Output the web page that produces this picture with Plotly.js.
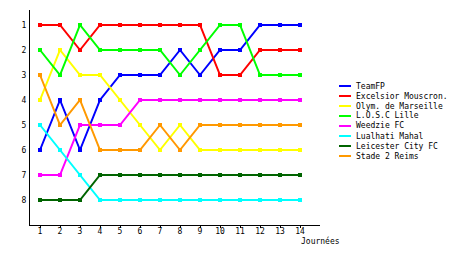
<!DOCTYPE html>
<html>
<head>
<meta charset="utf-8">
<script src="https://cdn.plot.ly/plotly-3.0.1.min.js"></script>
<style>html,body{margin:0;padding:0;background:#fff;}#chart{width:460px;height:255px;}</style>
</head>
<body>
<div id="chart"></div>
<script>
var rounds = [1,2,3,4,5,6,7,8,9,10,11,12,13,14];
var teams = ["TeamFP","Excelsior Mouscron.","Olym. de Marseille","L.O.S.C Lille","Weedzie FC","Lualhati Mahal","Leicester City FC","Stade 2 Reims"];
var teamFP     = [6,4,6,4,3,3,3,2,3,2,2,1,1,1];
var excelsior  = [1,1,2,1,1,1,1,1,1,3,3,2,2,2];
var marseille  = [4,2,3,3,4,5,6,5,6,6,6,6,6,6];
var lille      = [2,3,1,2,2,2,2,3,2,1,1,3,3,3];
var weedzie    = [7,7,5,5,5,4,4,4,4,4,4,4,4,4];
var lualhati   = [5,6,7,8,8,8,8,8,8,8,8,8,8,8];
var leicester  = [8,8,8,7,7,7,7,7,7,7,7,7,7,7];
var reims      = [3,5,4,6,6,6,5,6,5,5,5,5,5,5];
var yTicks = [1,2,3,4,5,6,7,8];
var xLabel = "Journées";

var series = [teamFP, excelsior, marseille, lille, weedzie, lualhati, leicester, reims];
var colors = ["#0000ff","#ff0000","#ffff00","#00ff00","#ff00ff","#00ffff","#006400","#ff9900"];
var font = {family: "DejaVu Sans Mono", size: 8, color: "#000"};

var traces = series.map(function(s, i){
  return {x: rounds, y: s, name: teams[i], type: "scatter", mode: "lines+markers",
    line: {color: colors[i], width: 2}, marker: {color: colors[i], size: 4, symbol: "square"},
    showlegend: false, hoverinfo: "none"};
});

// Legend (drawn manually for tight 10px rows)
var L = 30, R = 320, T = 10, B = 225;
function px(x){ return (x - L) / (R - L); }
function py(y){ return (B - y) / (B - T); }
var shapes = [], annotations = [];
teams.forEach(function(t, i){
  var yy = 86 + i * 10;
  shapes.push({type: "line", xref: "paper", yref: "paper", x0: px(339), x1: px(351), y0: py(yy), y1: py(yy),
    line: {color: colors[i], width: 2}});
  annotations.push({xref: "paper", yref: "paper", x: px(354), y: py(yy), xanchor: "left", yanchor: "middle",
    text: t, showarrow: false, font: font});
});
annotations.push({xref: "paper", yref: "paper", x: px(342), y: py(241), xanchor: "right", yanchor: "middle",
  text: xLabel, showarrow: false, font: font});

var layout = {
  width: 460, height: 255,
  margin: {l: L, r: 460 - R, t: T, b: 255 - B, pad: 0},
  paper_bgcolor: "#fff", plot_bgcolor: "#fff",
  font: font,
  showlegend: false,
  xaxis: {range: [0.5, 15], tickvals: rounds, ticktext: rounds.map(String), showgrid: false, zeroline: false,
    showline: true, linecolor: "#000", linewidth: 1, ticks: "outside", ticklen: 2, tickcolor: "#000",
    ticklabelstandoff: -4, tickfont: font, fixedrange: true},
  yaxis: {range: [9, 0.4], tickvals: yTicks, ticktext: yTicks.map(String), showgrid: false, zeroline: false,
    showline: true, linecolor: "#000", linewidth: 1, ticks: "", ticklabelstandoff: 1,
    tickfont: font, fixedrange: true},
  shapes: shapes,
  annotations: annotations
};
Plotly.newPlot("chart", traces, layout, {displayModeBar: false, staticPlot: true});
</script>
</body>
</html>
